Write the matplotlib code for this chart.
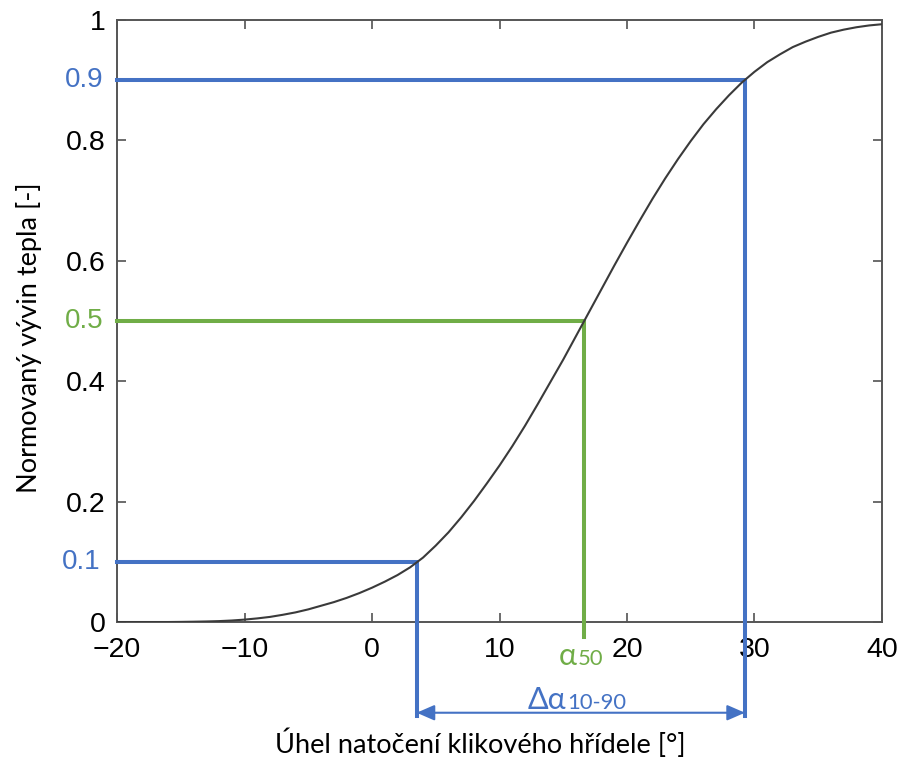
import matplotlib.pyplot as plt
from matplotlib.offsetbox import TextArea, HPacker, AnnotationBbox

# úhel natočení [°] a normovaný vývin tepla [-]
uhel = [-20, -16, -15, -14, -13, -12, -11, -10, -9, -8, -7, -6, -5, -4, -3,
        -2, -1, 0, 1, 2, 3, 4, 5, 6, 7, 8, 9, 10, 11, 12, 13, 14, 15, 16, 17,
        18, 19, 20, 21, 22, 23, 24, 25, 26, 27, 28, 29, 30, 31, 32, 33, 34,
        35, 36, 37, 38, 39, 40]
teplo = [0, 0, 0.0002, 0.0005, 0.0009, 0.0015, 0.0025, 0.004, 0.006, 0.0085,
         0.012, 0.016, 0.021, 0.027, 0.033, 0.040, 0.048, 0.057, 0.067, 0.078,
         0.091, 0.107, 0.127, 0.149, 0.174, 0.201, 0.230, 0.260, 0.292, 0.326,
         0.362, 0.399, 0.436, 0.475, 0.514, 0.553, 0.592, 0.630, 0.667, 0.703,
         0.737, 0.769, 0.799, 0.827, 0.852, 0.875, 0.896, 0.914, 0.930, 0.943,
         0.955, 0.964, 0.972, 0.979, 0.984, 0.988, 0.991, 0.993]

# charakteristické body hoření
alfa10, alfa50, alfa90 = 3.5, 16.65, 29.25
x10, x50, x90 = 0.1, 0.5, 0.9

xticky = [-20, -10, 0, 10, 20, 30, 40]
xpopisky = ['\u221220', '\u221210', '0', '10', '20', '30', '40']
yticky = [0, 0.2, 0.4, 0.6, 0.8, 1]
ypopisky = ['0', '0.2', '0.4', '0.6', '0.8', '1']

modra = '#4472C4'
zelena = '#70AD47'
TICK_FONT = ['Liberation Sans', 'DejaVu Sans']
TEXT_FONT = ['Lato', 'DejaVu Sans']

fig = plt.figure(figsize=(9.01, 7.58), dpi=100)
ax = fig.add_axes([0.1299, 0.1794, 0.849, 0.7942])

ax.plot(uhel, teplo, color='#3a3a3a', lw=1.5, zorder=5)

# vodorovné a svislé čáry k bodům 10 %, 50 % a 90 %
xt = ax.get_xaxis_transform()
ax.plot([-20, alfa10, alfa10], [x10, x10, -0.156], color=modra, lw=2.9,
        transform=xt, clip_on=False, solid_joinstyle='miter', zorder=3)
ax.plot([-20, alfa90, alfa90], [x90, x90, -0.156], color=modra, lw=2.9,
        transform=xt, clip_on=False, solid_joinstyle='miter', zorder=3)
ax.plot([-20, alfa50, alfa50], [x50, x50, -0.025], color=zelena, lw=2.9,
        transform=xt, clip_on=False, solid_joinstyle='miter', zorder=3)

# šipka pro délku hoření
ax.annotate('', xy=(alfa10, -0.1507), xytext=(alfa90, -0.1507),
            xycoords=xt, textcoords=xt, annotation_clip=False,
            arrowprops=dict(arrowstyle='<|-|>,head_length=0.54,head_width=0.235',
                            mutation_scale=20, color=modra, lw=1.5,
                            shrinkA=0, shrinkB=0))


def popisek(hlavni, index, barva, x, y, size):
    t1 = TextArea(hlavni, textprops=dict(color=barva, fontsize=size, family=TEXT_FONT))
    t2 = TextArea(index, textprops=dict(color=barva, fontsize=size * 0.72, family=TEXT_FONT))
    box = HPacker(children=[t1, t2], align='baseline', pad=0, sep=1)
    ab = AnnotationBbox(box, (x, y), xycoords=xt, frameon=False,
                        box_alignment=(0.5, 0.5), annotation_clip=False)
    ax.add_artist(ab)


popisek('\u03b1', '50', zelena, alfa50 - 0.25, -0.056, 22)
popisek('\u0394\u03b1', '10-90', modra, (alfa10 + alfa90) / 2 - 0.3, -0.130, 22)

# barevné hodnoty na ose y
yt = ax.get_yaxis_transform()
ax.text(-0.018, x90, '0.9', color=modra, fontsize=20, family=TICK_FONT,
        ha='right', va='center', transform=yt)
ax.text(-0.018, x50, '0.5', color=zelena, fontsize=20, family=TICK_FONT,
        ha='right', va='center', transform=yt)
ax.text(-0.021, x10, '0.1', color=modra, fontsize=20, family=TICK_FONT,
        ha='right', va='center', transform=yt)

ax.set_xlim(-20, 40)
ax.set_ylim(0, 1)
ax.set_xticks(xticky)
ax.set_xticklabels(xpopisky, family=TICK_FONT, fontsize=20.5)
ax.set_yticks(yticky)
ax.set_yticklabels(ypopisky, family=TICK_FONT, fontsize=20.5)
ax.tick_params(direction='in', top=True, right=True, length=6.5, width=1.1,
               color='#444444')
ax.tick_params(axis='x', pad=11)
ax.tick_params(axis='y', pad=8)
for s in ax.spines.values():
    s.set_color('#555555')
    s.set_linewidth(1.4)

fig.text(0.032, 0.555, 'Normovaný vývin tepla [-]', rotation=90,
         ha='center', va='center', fontsize=19.5, family=TEXT_FONT)
fig.text(0.533, 0.0066, 'Úhel natočení klikového hřídele [°]',
         ha='center', va='baseline', fontsize=19.5, family=TEXT_FONT)

fig.savefig('out.png', dpi=100)
